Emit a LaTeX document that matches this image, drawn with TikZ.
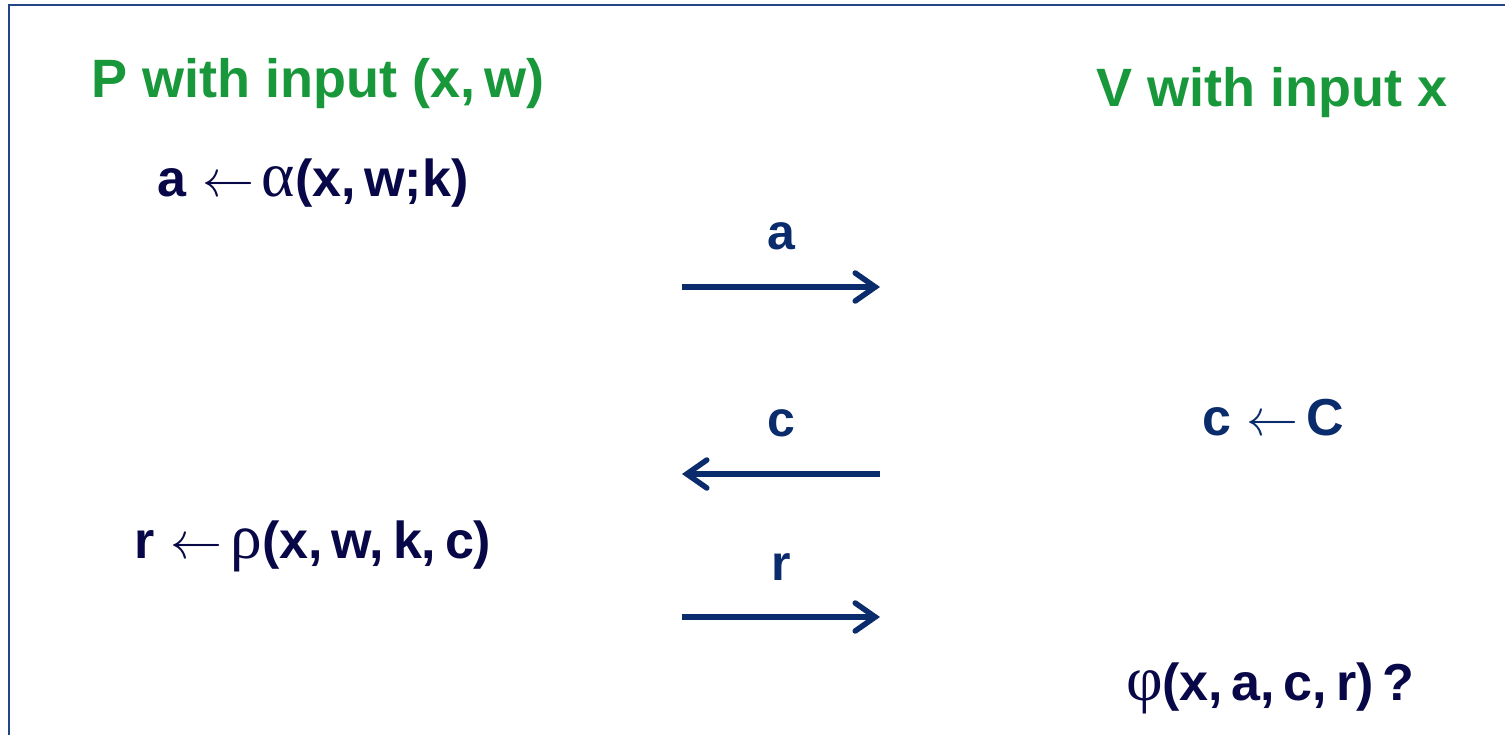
\RequirePackage{fix-cm}
\documentclass[tikz,border=0pt]{standalone}
\usepackage{fontspec}
\setmainfont{Liberation Sans}
\newfontfamily\grk[Scale=1.22]{Liberation Serif}
\usetikzlibrary{arrows.meta}
\definecolor{ttlgreen}{RGB}{24,152,58}
\definecolor{navytext}{RGB}{8,8,72}
\definecolor{arrowblue}{RGB}{10,44,108}
\definecolor{framecol}{RGB}{36,68,136}
\tikzset{
  title/.style={font=\fontsize{54}{60}\selectfont\bfseries, text=ttlgreen, anchor=base, inner sep=0pt},
  formula/.style={font=\fontsize{52}{58}\selectfont\bfseries, text=navytext, anchor=base, inner sep=0pt},
  msg/.style={font=\fontsize{50}{56}\selectfont\bfseries, text=arrowblue, anchor=base, inner sep=0pt},
  msgarrow/.style={draw=arrowblue, line width=5.5pt, -{Straight Barb[length=20pt,width=28pt,line cap=round]}}
}
\newcommand{\la}{\hspace{0.3em}$\mathsurround=0pt\leftarrow$\hspace{0.15em}}
\newcommand{\cm}{,\,}
\begin{document}
\begin{tikzpicture}[x=1pt,y=-1pt]
\useasboundingbox (0,0) rectangle (1505,735);
\fill[black!8] (12,8) rectangle (1520,750);
\draw[framecol, line width=2.5pt, fill=white] (9,5) rectangle (1520,750);
\node[title] (ptitle) at (318,98) {P with input (x,\,w)};
\node[title] (vtitle) at (1272,107) {V with input x};
\node[formula] (alpha) at (313,197) {a\la{\grk\mdseries α}(x\cm w;k)};
\node[formula, text=arrowblue] (cgen) at (1273,435) {c\la C};
\node[formula] (rho) at (313,558) {r\la{\grk\mdseries ρ}(x\cm w\cm k\cm c)};
\node[formula] (phi) at (1270,700) {{\grk\mdseries φ}(x\cm a\cm c\cm r)\,?};
\coordinate (aL) at (682,287); \coordinate (aR) at (880,287);
\coordinate (cL) at (682,474); \coordinate (cR) at (880,474);
\coordinate (rL) at (682,617); \coordinate (rR) at (880,617);
\draw[msgarrow] (aL) -- (aR) node[msg, midway, above=34pt] (la) {a};
\draw[msgarrow] (cR) -- (cL) node[msg, midway, above=34pt] (lc) {c};
\draw[msgarrow] (rL) -- (rR) node[msg, midway, above=34pt] (lr) {r};
\end{tikzpicture}
\end{document}
